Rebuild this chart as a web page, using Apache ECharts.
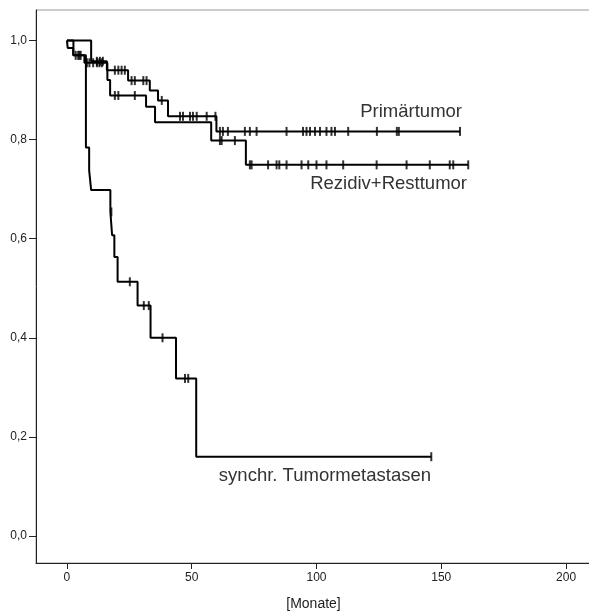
<!DOCTYPE html>
<html>
<head>
<meta charset="utf-8">
<script src="https://cdn.jsdelivr.net/npm/echarts@6/dist/echarts.min.js"></script>
<style>html,body{margin:0;padding:0;background:#fff}#c{width:589px;height:616px}</style>
</head>
<body>
<div id="c"></div>
<script>
// ---- data (months, survival) ----
const xTicks = [0, 50, 100, 150, 200];
const yTicks = [0, 0.2, 0.4, 0.6, 0.8, 1.0];

const primTimes = [0, 9.7, 16.0, 24.5, 33.2, 36.5, 40.5, 59.9, 157.5];
const primSurv  = [1.0, 0.958, 0.940, 0.919, 0.899, 0.879, 0.847, 0.8165, 0.8165];
const primCens  = [12, 13.2, 14.4, 19.2, 20.6, 21.9, 23.2, 25.9, 27.2, 30.6, 31.9, 38, 45.3, 46.5, 49.3, 50.5, 52, 56, 59.5,
                   61.3, 62.5, 64.5, 71.3, 73.3, 76, 88, 94.6, 96, 97.4, 99.4, 101.4, 104, 106, 107.4, 112.7, 124.2, 132.2, 133, 157.5];

const rezTimes = [0, 0.3, 2.5, 7.0, 16.2, 17.3, 31.7, 35.3, 57.8, 71.7, 160.8];
const rezSurv  = [1.0, 0.985, 0.970, 0.955, 0.920, 0.889, 0.866, 0.835, 0.798, 0.749, 0.749];
const rezCens  = [3.5, 4.5, 5.5, 8, 9, 10.5, 12, 13, 14, 19.2, 20.6, 27.2, 61.3, 62, 67.3,
                  73.3, 74, 80.6, 84, 85.1, 88, 94, 96.7, 100, 104, 110.7, 124.1, 136.1, 145.4, 153.4, 154.8, 160.8];

const synTimes = [0, 2.6, 7.6, 8.9, 9.7, 17.4, 18.1, 19.0, 20.3, 28.3, 33.5, 43.7, 51.8, 146.0];
const synSurv  = [1.0, 0.970, 0.784, 0.738, 0.698, 0.654, 0.607, 0.563, 0.513, 0.465, 0.400, 0.318, 0.160, 0.160];
const synCens  = [5, 17.8, 25.2, 30.8, 32.8, 38.3, 47.3, 48.6, 146.0];

const groupNames = ['Primärtumor', 'Rezidiv+Resttumor', 'synchr. Tumormetastasen'];

// ---- helpers ----
function pairs(t, s) { return t.map((v, i) => [v, s[i]]); }
function levelAt(t, s, x) {
  let v = s[0];
  for (let i = 0; i < t.length; i++) { if (t[i] <= x) v = s[i]; }
  return v;
}
function cens(t, s, c) { return c.map(x => [x, levelAt(t, s, x)]); }

const lineStyle = { color: '#000', width: 2 };
function stepSeries(name, t, s) {
  return { name, type: 'line', step: 'end', data: pairs(t, s), showSymbol: false,
           lineStyle, itemStyle: { color: '#000' }, silent: true, z: 2 };
}
function censSeries(name, t, s, c) {
  return { name: name + ' zensiert', type: 'scatter', data: cens(t, s, c), symbol: 'rect',
           symbolSize: [2, 9], itemStyle: { color: '#000' }, silent: true, z: 3 };
}

const FONT = 'Liberation Sans, Arial';
const chart = echarts.init(document.getElementById('c'), null, { renderer: 'canvas' });
chart.setOption({
  animation: false,
  backgroundColor: '#fff',
  grid: { left: 36, top: 10, right: -2, bottom: 53, show: true, borderColor: '#999', borderWidth: 1,
          containLabel: false, outerBoundsMode: 'none' },
  xAxis: {
    type: 'value', min: -12.4, max: 210,
    name: '[Monate]', nameLocation: 'middle', nameGap: 34,
    nameTextStyle: { fontFamily: FONT, fontSize: 14, color: '#222' },
    axisLine: { show: true, onZero: false, lineStyle: { color: '#222', width: 1 } },
    axisTick: { show: true, length: 6, customValues: xTicks, lineStyle: { color: '#222' } },
    axisLabel: { customValues: xTicks, margin: 9, fontFamily: FONT, fontSize: 12, color: '#222' },
    splitLine: { show: false }
  },
  yAxis: {
    type: 'value', min: -0.0545, max: 1.0615,
    axisLine: { show: true, onZero: false, lineStyle: { color: '#222', width: 1 } },
    axisTick: { show: true, length: 7, customValues: yTicks, lineStyle: { color: '#222' } },
    axisLabel: { customValues: yTicks, margin: 9, fontFamily: FONT, fontSize: 12, color: '#222',
                 formatter: v => v.toFixed(1).replace('.', ',') },
    splitLine: { show: false }
  },
  series: [
    stepSeries(groupNames[0], primTimes, primSurv),
    stepSeries(groupNames[1], rezTimes, rezSurv),
    stepSeries(groupNames[2], synTimes, synSurv),
    censSeries(groupNames[0], primTimes, primSurv, primCens),
    censSeries(groupNames[1], rezTimes, rezSurv, rezCens),
    censSeries(groupNames[2], synTimes, synSurv, synCens)
  ],
  graphic: [
    { type: 'text', right: 589 - 462, top: 102, style: { text: groupNames[0], font: '18.5px "Liberation Sans", Arial', fill: '#333' } },
    { type: 'text', right: 589 - 467, top: 174, style: { text: groupNames[1], font: '18.5px "Liberation Sans", Arial', fill: '#333' } },
    { type: 'text', right: 589 - 431, top: 466, style: { text: groupNames[2], font: '18.5px "Liberation Sans", Arial', fill: '#333' } }
  ]
});
</script>
</body>
</html>
